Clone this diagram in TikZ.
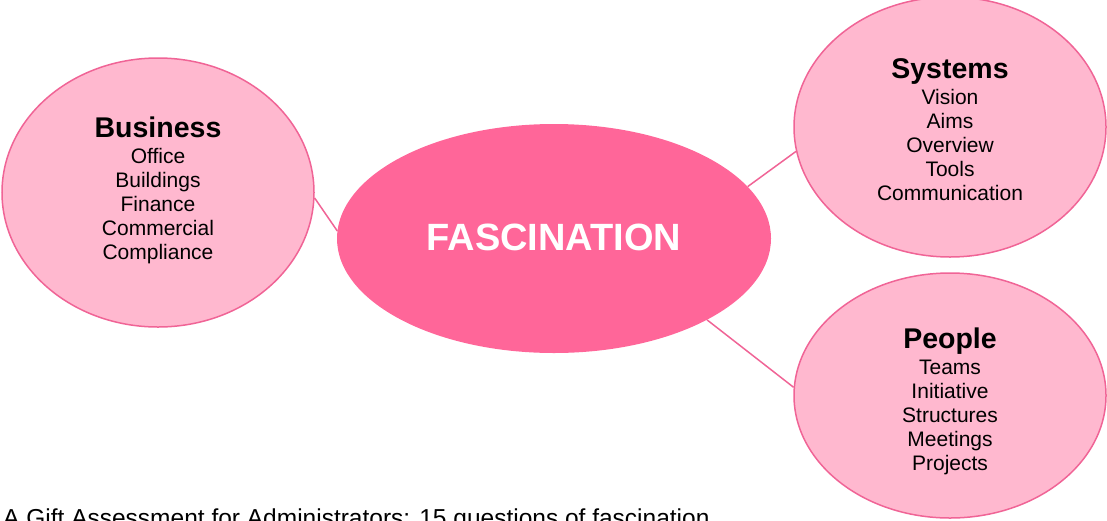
\documentclass[tikz,border=0pt]{standalone}
\usepackage{fontspec}
\setmainfont{Liberation Sans}
\usetikzlibrary{shapes.geometric}
\definecolor{hubpink}{RGB}{255,102,153}
\definecolor{lightpink}{RGB}{255,184,207}
\definecolor{edgepink}{RGB}{240,100,150}
\tikzset{
  bubble/.style={ellipse, draw=edgepink, line width=1.5pt, fill=lightpink, inner sep=0pt},
  hub/.style={ellipse, fill=hubpink, inner sep=0pt},
  title/.style={anchor=base, font=\fontsize{28.5}{30}\selectfont\bfseries, text=black, inner sep=0pt},
  items/.style={anchor=base, font=\fontsize{21}{24}\selectfont, text=black, inner sep=0pt},
  link/.style={draw=edgepink, line width=1.5pt}
}
\newcommand{\itemlist}[1]{\begin{tabular}[t]{@{}c@{}}#1\end{tabular}}
\begin{document}
\begin{tikzpicture}[x=1pt,y=-1pt]
\useasboundingbox (0,0) rectangle (1107,520);
% ellipses
\node[bubble, minimum width=312pt, minimum height=269pt] (bus) at (158,192.5) {};
\node[bubble, minimum width=312pt, minimum height=260pt] (sys) at (950,127) {};
\node[bubble, minimum width=312pt, minimum height=245pt] (peo) at (950,395.5) {};
\node[hub, minimum width=434pt, minimum height=229pt] (fas) at (554,238.5) {};
% connectors
\draw[link] (bus.-2) -- (fas.178);
\draw[link] (fas.15.6) -- (sys.-171);
\draw[link] (fas.-28) -- (peo.177);
% hub text
\node[anchor=base, font=\fontsize{38}{40}\selectfont\bfseries, text=white, inner sep=0pt] (fastext) at (554,250) {FASCINATION};
% Business
\node[title] (bust) at (158,137) {Business};
\node[items] (busl) at (158,163) {\itemlist{Office\\Buildings\\Finance\\Commercial\\Compliance}};
% Systems
\node[title] (syst) at (950,78) {Systems};
\node[items] (sysl) at (950,104) {\itemlist{Vision\\Aims\\Overview\\Tools\\Communication}};
% People
\node[title] (peot) at (950,348) {People};
\node[items] (peol) at (950,374) {\itemlist{Teams\\Initiative\\Structures\\Meetings\\Projects}};
% caption
\node[anchor=base west, font=\fontsize{24.5}{26}\selectfont, inner sep=0pt] (cap) at (3,526) {A Gift Assessment for Administrators: 15 questions of fascination};
\end{tikzpicture}
\end{document}
